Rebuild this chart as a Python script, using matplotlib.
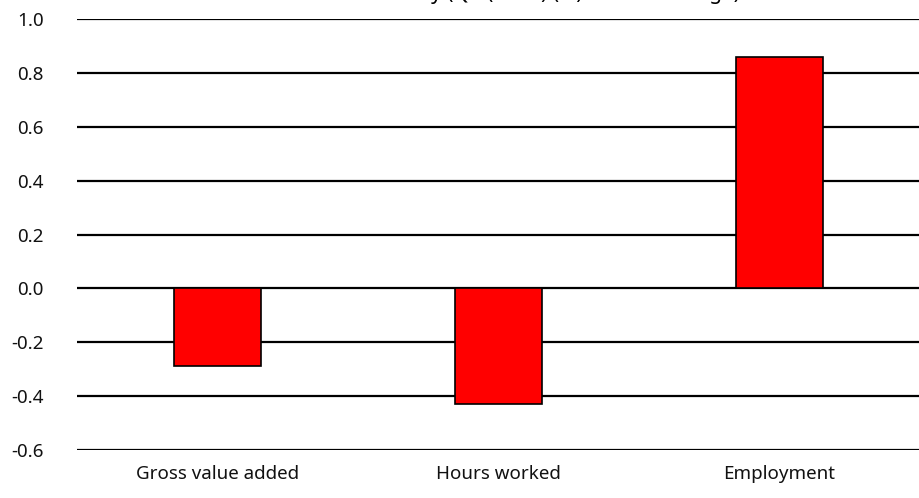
import matplotlib
matplotlib.use("Agg")
import matplotlib.pyplot as plt
import numpy as np

# Contributions, percentage change
categories = ["Gross value added", "Hours worked", "Employment"]
values = [-0.29, -0.43, 0.86]
yticks = [-0.6, -0.4, -0.2, 0.0, 0.2, 0.4, 0.6, 0.8, 1.0]
title = "Euro area activity (Q4 (2020) (%) annual change)"

plt.rcParams["font.family"] = ["Noto Sans", "DejaVu Sans"]

fig = plt.figure(figsize=(9.2, 4.98), dpi=100)
ax = fig.add_axes([77 / 920, 48 / 498, 843 / 920, 431 / 498])

x = np.arange(len(categories))
ax.bar(x, values, width=0.31, color="#ff0000", edgecolor="black",
       linewidth=1.2, zorder=3)

ax.set_xlim(-0.5, len(categories) - 0.5)
ax.set_ylim(-0.6, 1.0)
ax.set_yticks(yticks)
ax.set_yticklabels(["%.1f" % t for t in yticks])
ax.set_xticks(x)
ax.set_xticklabels(categories)
ax.yaxis.grid(True, color="black", linewidth=1.6, zorder=1)
ax.tick_params(axis="both", length=0, labelsize=13.5, colors="#111111")
ax.tick_params(axis="y", pad=24)
ax.tick_params(axis="x", pad=11)
for s in ax.spines.values():
    s.set_visible(False)

# title runs off the top edge, only descenders remain
fig.text(0.55, 1 + 1 / 498, title, ha="center", va="baseline", fontsize=15)

fig.savefig("out.png", dpi=100)
